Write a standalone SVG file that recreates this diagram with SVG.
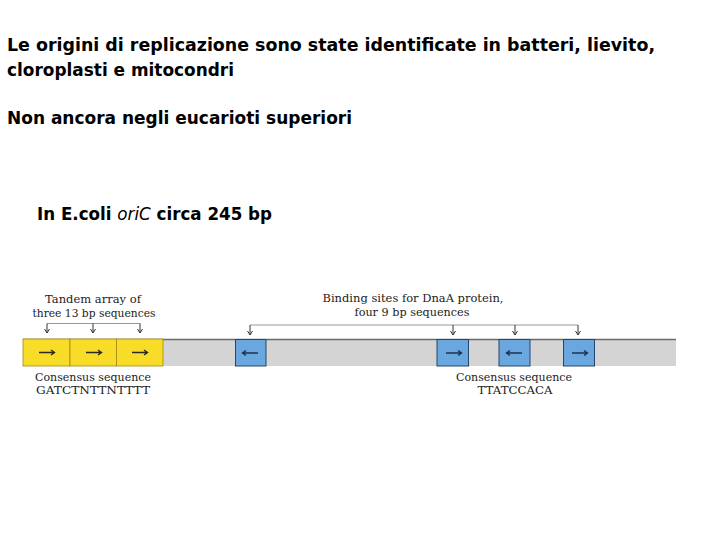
<svg xmlns="http://www.w3.org/2000/svg" width="720" height="540" viewBox="0 0 720 540">
<defs>
<style>
.t{font-family:"DejaVu Sans","Noto Sans",sans-serif;font-size:17px;font-weight:bold;fill:#000}
.s{font-family:"DejaVu Serif","Liberation Serif",serif;font-size:11.5px;fill:#222;text-anchor:middle}
.br{fill:none;stroke:#999;stroke-width:1}
.tick{fill:none;stroke:#333;stroke-width:1}
.y{fill:#f9dc28;stroke:#a08a10;stroke-width:0.8}
.b{fill:#6aa7df;stroke:#24466b;stroke-width:1}
.ar{fill:none;stroke:#2a2a1a;stroke-width:1.4}
.ab{fill:none;stroke:#1c3452;stroke-width:1.4}
</style>
<marker id="dn" markerWidth="8" markerHeight="8" refX="6" refY="4" orient="auto" markerUnits="userSpaceOnUse" viewBox="0 0 8 8">
<path d="M2,1.5 L6,4 L2,6.5" fill="none" stroke="#333" stroke-width="1"/>
</marker>
</defs>
<rect width="720" height="540" fill="#fff"/>
<g id="title">
<text class="t" x="7" y="51" textLength="648" lengthAdjust="spacingAndGlyphs">Le origini di replicazione sono state identificate in batteri, lievito,</text>
<text class="t" x="7" y="76" textLength="227" lengthAdjust="spacingAndGlyphs">cloroplasti e mitocondri</text>
<text class="t" x="7" y="124" textLength="345" lengthAdjust="spacingAndGlyphs">Non ancora negli eucarioti superiori</text>
<text class="t" x="37" y="220" textLength="235" lengthAdjust="spacingAndGlyphs">In E.coli <tspan font-style="italic" font-weight="normal">oriC</tspan> circa 245 bp</text>
</g>
<g id="bar">
<rect x="23" y="339" width="653" height="27" fill="#d4d4d4"/>
<line x1="23" y1="339.5" x2="676" y2="339.5" stroke="#6b6b6b" stroke-width="1.5"/>
</g>
<g id="tandem">
<rect class="y" x="23" y="339" width="47" height="27"/>
<rect class="y" x="70" y="339" width="46.5" height="27"/>
<rect class="y" x="116.5" y="339" width="46.5" height="27"/>
<g class="ar">
<path d="M39,352.5 H54 M51,350 L54.5,352.5 L51,355"/>
<path d="M86,352.5 H101 M98,350 L101.5,352.5 L98,355"/>
<path d="M132,352.5 H147 M144,350 L147.5,352.5 L144,355"/>
</g>
</g>
<g id="dnaA">
<rect class="b" x="235.5" y="339.5" width="30.5" height="26.5"/>
<rect class="b" x="437" y="339.5" width="31.5" height="26.5"/>
<rect class="b" x="499" y="339.5" width="31" height="26.5"/>
<rect class="b" x="563.5" y="339.5" width="31" height="26.5"/>
<g class="ab">
<path d="M258,353 H243 M246,350.5 L242.5,353 L246,355.5"/>
<path d="M446,353 H461 M458,350.5 L461.5,353 L458,355.5"/>
<path d="M522,353 H507 M510,350.5 L506.5,353 L510,355.5"/>
<path d="M572,353 H587 M584,350.5 L587.5,353 L584,355.5"/>
</g>
</g>
<g id="connectors">
<path class="br" d="M47,323.5 H140"/>
<line class="tick" x1="47" y1="323.5" x2="47" y2="333" marker-end="url(#dn)"/>
<line class="tick" x1="93" y1="323.5" x2="93" y2="333" marker-end="url(#dn)"/>
<line class="tick" x1="140" y1="323.5" x2="140" y2="333" marker-end="url(#dn)"/>
<path class="br" d="M250,325 H578"/>
<line class="tick" x1="250" y1="325" x2="250" y2="335" marker-end="url(#dn)"/>
<line class="tick" x1="453" y1="325" x2="453" y2="335" marker-end="url(#dn)"/>
<line class="tick" x1="515" y1="325" x2="515" y2="335" marker-end="url(#dn)"/>
<line class="tick" x1="578" y1="325" x2="578" y2="335" marker-end="url(#dn)"/>
</g>
<g id="labels">
<text class="s" x="93" y="303" textLength="96" lengthAdjust="spacingAndGlyphs">Tandem array of</text>
<text class="s" x="94" y="317" textLength="123" lengthAdjust="spacingAndGlyphs">three 13 bp sequences</text>
<text class="s" x="413" y="302" textLength="181" lengthAdjust="spacingAndGlyphs">Binding sites for DnaA protein,</text>
<text class="s" x="412" y="316" textLength="115" lengthAdjust="spacingAndGlyphs">four 9 bp sequences</text>
<text class="s" x="93" y="381" textLength="116" lengthAdjust="spacingAndGlyphs">Consensus sequence</text>
<text class="s" x="93" y="394" textLength="114" lengthAdjust="spacingAndGlyphs">GATCTNTTNTTTT</text>
<text class="s" x="514" y="381" textLength="116" lengthAdjust="spacingAndGlyphs">Consensus sequence</text>
<text class="s" x="515" y="394" textLength="75" lengthAdjust="spacingAndGlyphs">TTATCCACA</text>
</g>
</svg>
